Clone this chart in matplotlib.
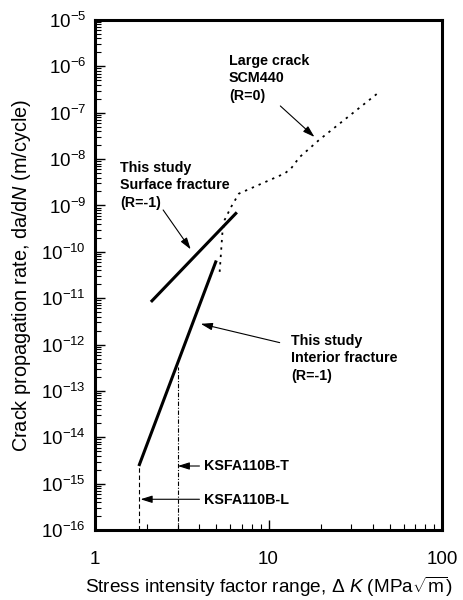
import matplotlib
matplotlib.use("Agg")
import matplotlib.pyplot as plt
from matplotlib.ticker import LogLocator, NullFormatter, FixedLocator

plt.rcParams['font.family'] = ['Liberation Sans', 'DejaVu Sans']
plt.rcParams['mathtext.fontset'] = 'custom'
plt.rcParams['mathtext.rm'] = 'Liberation Sans'
plt.rcParams['mathtext.it'] = 'Liberation Sans:italic'
plt.rcParams['mathtext.bf'] = 'Liberation Sans:bold'

# ---- data ----
surface_dk = [2.1, 6.57]
surface_rate = [8.3e-12, 7.1e-10]

interior_dk = [1.79, 5.0]
interior_rate = [2.4e-15, 6.5e-11]

large_dk = [5.23, 5.42, 5.59, 6.1, 6.75, 12.4, 13.5, 15.1, 19.6, 43.5]
large_rate = [3.7e-11, 2.5e-10, 4.9e-10, 9.4e-10, 1.8e-9, 4.9e-9, 6.3e-9, 1.1e-8, 2.6e-8, 2.8e-7]

ksfa_L_dk = 1.8
ksfa_T_dk = 3.0
ksfa_L_rate = 2.4e-15
ksfa_T_rate = 3.3e-13

ytick_exps = list(range(-16, -4))
xtick_vals = [1, 10, 100]
xtick_labels = ['1', '10', '100']

fig = plt.figure(figsize=(4.63, 6.0), dpi=100)
ax = fig.add_axes([95/463, 1-530/600, 347/463, 510/600])
ax.set_xscale('log')
ax.set_yscale('log')
ax.set_xlim(1, 100)
ax.set_ylim(1e-16, 1e-5)

ax.plot(surface_dk, surface_rate, color='k', lw=2.2, solid_capstyle='butt')
ax.plot(interior_dk, interior_rate, color='k', lw=2.2, solid_capstyle='butt')
ax.plot(large_dk, large_rate, color='k', lw=1.3, linestyle=(0, (1.3, 2.8)))
ax.plot([ksfa_L_dk, ksfa_L_dk], [1e-16, ksfa_L_rate], color='k', lw=0.8, linestyle=(0, (4, 2.5)))
ax.plot([ksfa_T_dk, ksfa_T_dk], [1e-16, ksfa_T_rate], color='k', lw=0.8, linestyle=(0, (4, 1.5, 1, 1.5)))

arrow = dict(arrowstyle='-|>,head_length=0.7,head_width=0.22', color='k', lw=0.8,
             shrinkA=0, shrinkB=0)
ax.annotate('', xy=(18.4, 3.0e-8), xytext=(11.7, 1.4e-7), arrowprops=arrow)
ax.annotate('', xy=(3.56, 1.13e-10), xytext=(2.47, 8.0e-10), arrowprops=arrow)
ax.annotate('', xy=(4.07, 2.8e-12), xytext=(11.6, 1.1e-12), arrowprops=arrow)
ax.annotate('', xy=(3.0, 2.4e-15), xytext=(4.0, 2.4e-15), arrowprops=arrow)
ax.annotate('', xy=(1.83, 4.6e-16), xytext=(4.0, 4.6e-16), arrowprops=arrow)

def px(x, y):
    return ((x - 95) / 347, (530 - y) / 510)

tk = dict(transform=ax.transAxes, fontsize=10.3, fontweight='bold', ha='left', va='top', linespacing=1.3)
ax.text(*px(229, 54), 'Large crack\nSCM440\n(R=0)', **tk)
ax.text(*px(120, 161), 'This study\nSurface fracture\n(R=-1)', **tk)
ax.text(*px(291, 334), 'This study\nInterior fracture\n(R=-1)', **tk)
tk2 = dict(transform=ax.transAxes, fontsize=10.3, fontweight='bold', ha='left', va='center')
ax.text(*px(204, 466), 'KSFA110B-T', **tk2)
ax.text(*px(204, 500), 'KSFA110B-L', **tk2)

# ticks
ax.yaxis.set_major_locator(FixedLocator([10.0**e for e in ytick_exps]))
ax.set_yticklabels([r'$\mathregular{10^{%d}}$' % e for e in ytick_exps])
ax.yaxis.set_minor_locator(LogLocator(base=10, subs=range(2, 10), numticks=50))
ax.yaxis.set_minor_formatter(NullFormatter())
ax.xaxis.set_major_locator(FixedLocator(xtick_vals))
ax.set_xticklabels(xtick_labels)
ax.xaxis.set_minor_locator(LogLocator(base=10, subs=range(2, 10), numticks=50))
ax.xaxis.set_minor_formatter(NullFormatter())

ax.tick_params(axis='both', which='both', direction='in', top=False, right=False, color='k')
ax.tick_params(axis='both', which='major', length=7, width=1.0, labelsize=13.5)
ax.tick_params(axis='both', which='minor', length=4, width=0.8)
ax.tick_params(axis='x', which='major', pad=15)
ax.tick_params(axis='y', which='major', pad=6.5)

for s in ax.spines.values():
    s.set_linewidth(2.2)

ax.set_xlabel(r'Stress intensity factor range, $\Delta$ $\mathit{K}$ (MPa$\sqrt{\mathrm{m}}$)', fontsize=13.7, labelpad=5)
ax.set_ylabel(r'Crack propagation rate, da/d$\mathit{N}$ (m/cycle)', fontsize=14.3, labelpad=6)

fig.savefig('out.png', dpi=100)
